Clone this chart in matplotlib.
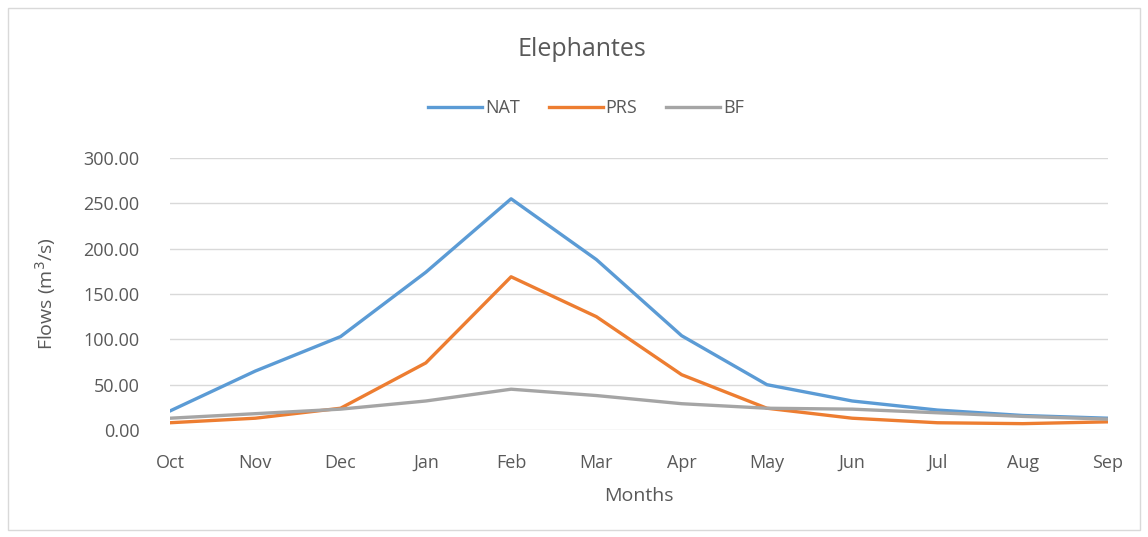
import matplotlib
matplotlib.use("Agg")
import matplotlib.pyplot as plt
from matplotlib.patches import Rectangle

months = ['Oct', 'Nov', 'Dec', 'Jan', 'Feb', 'Mar', 'Apr', 'May', 'Jun', 'Jul', 'Aug', 'Sep']
nat = [21, 65, 103, 174, 255, 188, 104, 50, 32, 22, 16, 13]
prs = [8, 13, 24, 74, 169, 125, 61, 24, 13, 8, 7, 9]
bf = [13, 18, 23, 32, 45, 38, 29, 24, 23, 19, 15, 12]
yticks = [0, 50, 100, 150, 200, 250, 300]

plt.rcParams['font.family'] = ['Open Sans', 'DejaVu Sans']
txt = '#595959'

fig = plt.figure(figsize=(11.48, 5.37), dpi=100)
ax = fig.add_axes([170 / 1148, 1 - 430 / 537, (1108 - 170) / 1148, (430 - 158) / 537])

x = range(len(months))
ax.plot(x, nat, color='#5B9BD5', lw=2.4, label='NAT', solid_joinstyle='round')
ax.plot(x, prs, color='#ED7D31', lw=2.4, label='PRS', solid_joinstyle='round')
ax.plot(x, bf, color='#A5A5A5', lw=2.4, label='BF', solid_joinstyle='round')

ax.set_xlim(0, len(months) - 1)
ax.set_ylim(0, 300)
ax.set_yticks(yticks)
ax.set_yticklabels([f'{v:.2f}' for v in yticks])
ax.set_xticks(list(x))
ax.set_xticklabels(months)
ax.tick_params(length=0, labelsize=13, colors=txt)
ax.tick_params(axis='x', pad=17)
ax.tick_params(axis='y', pad=22)
ax.grid(axis='y', color='#D9D9D9', lw=1)
ax.set_axisbelow(True)
for s in ax.spines.values():
    s.set_visible(False)

ax.set_xlabel('Months', fontsize=14, color=txt, labelpad=11)
ax.set_ylabel('Flows (m$^3$/s)', fontsize=14, color=txt, labelpad=18)

fig.text(582 / 1148, 1 - 50 / 537, 'Elephantes', ha='center', va='center', fontsize=18, color=txt)
fig.legend(loc='center', bbox_to_anchor=(586 / 1148, 1 - 108 / 537), ncol=3, frameon=False,
           fontsize=13, labelcolor=txt, handlelength=3.0, handletextpad=0.15, columnspacing=1.6)

fig.patches.append(Rectangle((8 / 1148, 7 / 537), 1132 / 1148, 522 / 537, transform=fig.transFigure,
                             fill=False, edgecolor='#D9D9D9', lw=1))

fig.savefig('out.png', dpi=100)
